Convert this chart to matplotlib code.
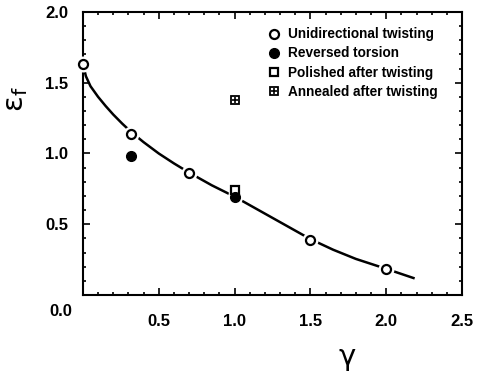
import matplotlib
matplotlib.use("Agg")
import matplotlib.pyplot as plt
from matplotlib.lines import Line2D
from matplotlib.ticker import MultipleLocator

plt.rcParams['font.family'] = ['Liberation Sans', 'DejaVu Sans']
plt.rcParams['mathtext.fontset'] = 'dejavusans'

# data
uni_x = [0.0, 0.32, 0.70, 1.50, 2.00]
uni_y = [1.63, 1.14, 0.865, 0.39, 0.185]
rev_x = [0.32, 1.00]
rev_y = [0.98, 0.69]
pol_x = [1.00]
pol_y = [0.74]
ann_x = [1.00]
ann_y = [1.38]

# fitted curve
fit_x = [0.0, 0.02, 0.05, 0.10, 0.15, 0.20, 0.26, 0.32, 0.40, 0.50,
         0.60, 0.70, 0.85, 1.00, 1.20, 1.40, 1.50, 1.65, 1.80, 2.00, 2.18]
fit_y = [1.63, 1.545, 1.475, 1.40, 1.335, 1.275, 1.21, 1.15, 1.08, 1.00,
         0.93, 0.865, 0.775, 0.695, 0.575, 0.455, 0.395, 0.32, 0.255, 0.185, 0.12]

labels = ['Unidirectional twisting', 'Reversed torsion',
          'Polished after twisting', 'Annealed after twisting']
xtick_labels = ['', '0.5', '1.0', '1.5', '2.0', '2.5']
ytick_labels = ['', '0.5', '1.0', '1.5', '2.0']

fig = plt.figure(figsize=(4.82, 3.75), dpi=100)
ax = fig.add_axes([0.172, 0.2133, 0.7865, 0.755])

ax.plot(fit_x, fit_y, color='black', lw=1.8, zorder=2)

# white halos so the line breaks around the markers
ax.plot(uni_x, uni_y, 'o', ms=10.5, color='white', mec='white', zorder=3, clip_on=False)
ax.plot(pol_x, pol_y, 's', ms=9, color='white', mec='white', zorder=3)
ax.plot(rev_x[1:], rev_y[1:], 'o', ms=10, color='white', mec='white', zorder=3)

ax.plot(uni_x, uni_y, 'o', ms=6.5, mfc='white', mec='black', mew=1.6, zorder=4, clip_on=False)
ax.plot(rev_x, rev_y, 'o', ms=7, color='black', zorder=5)
ax.plot(pol_x, pol_y, 's', ms=6, mfc='white', mec='black', mew=1.6, zorder=4)
ax.plot(ann_x, ann_y, 's', ms=6, mfc='white', mec='black', mew=1.3, zorder=4)
ax.plot(ann_x, ann_y, '+', ms=5, mec='black', mew=1.2, zorder=5)

ax.set_xlim(0, 2.5)
ax.set_ylim(0, 2.0)
ax.set_xticks([0, 0.5, 1.0, 1.5, 2.0, 2.5])
ax.set_xticklabels(xtick_labels)
ax.set_yticks([0, 0.5, 1.0, 1.5, 2.0])
ax.set_yticklabels(ytick_labels)
ax.xaxis.set_minor_locator(MultipleLocator(0.1))
ax.yaxis.set_minor_locator(MultipleLocator(0.1))
ax.tick_params(which='both', direction='in', top=True, right=True, width=1.2)
ax.tick_params(which='major', length=5)
ax.tick_params(which='minor', length=2.5)
ax.tick_params(axis='x', pad=13.5)
ax.tick_params(axis='y', pad=10.5)
for lab in ax.get_xticklabels() + ax.get_yticklabels():
    lab.set_fontsize(12)
    lab.set_fontweight('bold')
for sp in ax.spines.values():
    sp.set_linewidth(1.5)

ax.text(-0.029, -0.06, '0.0', transform=ax.transAxes, ha='right', va='center',
        fontsize=12, fontweight='bold')

ax.set_ylabel(r'$\mathrm{\varepsilon}_{\mathrm{f}}$', fontsize=21)
ax.yaxis.set_label_coords(-0.14, 0.69)
ax.set_xlabel(r'$\mathrm{\gamma}$', fontsize=21)
ax.xaxis.set_label_coords(0.697, -0.177)

h_uni = Line2D([], [], ls='none', marker='o', ms=6.5, mfc='white', mec='black', mew=1.6)
h_rev = Line2D([], [], ls='none', marker='o', ms=7, color='black')
h_pol = Line2D([], [], ls='none', marker='s', ms=6, mfc='white', mec='black', mew=1.6)
h_ann_s = Line2D([], [], ls='none', marker='s', ms=6, mfc='white', mec='black', mew=1.3)
h_ann_p = Line2D([], [], ls='none', marker='+', ms=5, mec='black', mew=1.2)
ax.legend([h_uni, h_rev, h_pol, (h_ann_s, h_ann_p)], labels,
          loc='upper left', bbox_to_anchor=(0.486, 0.945), frameon=False,
          prop={'weight': 'bold', 'size': 9.8}, handlelength=1.0,
          handletextpad=0.5, labelspacing=0.37, borderpad=0, borderaxespad=0)

fig.savefig('out.png', dpi=100)
